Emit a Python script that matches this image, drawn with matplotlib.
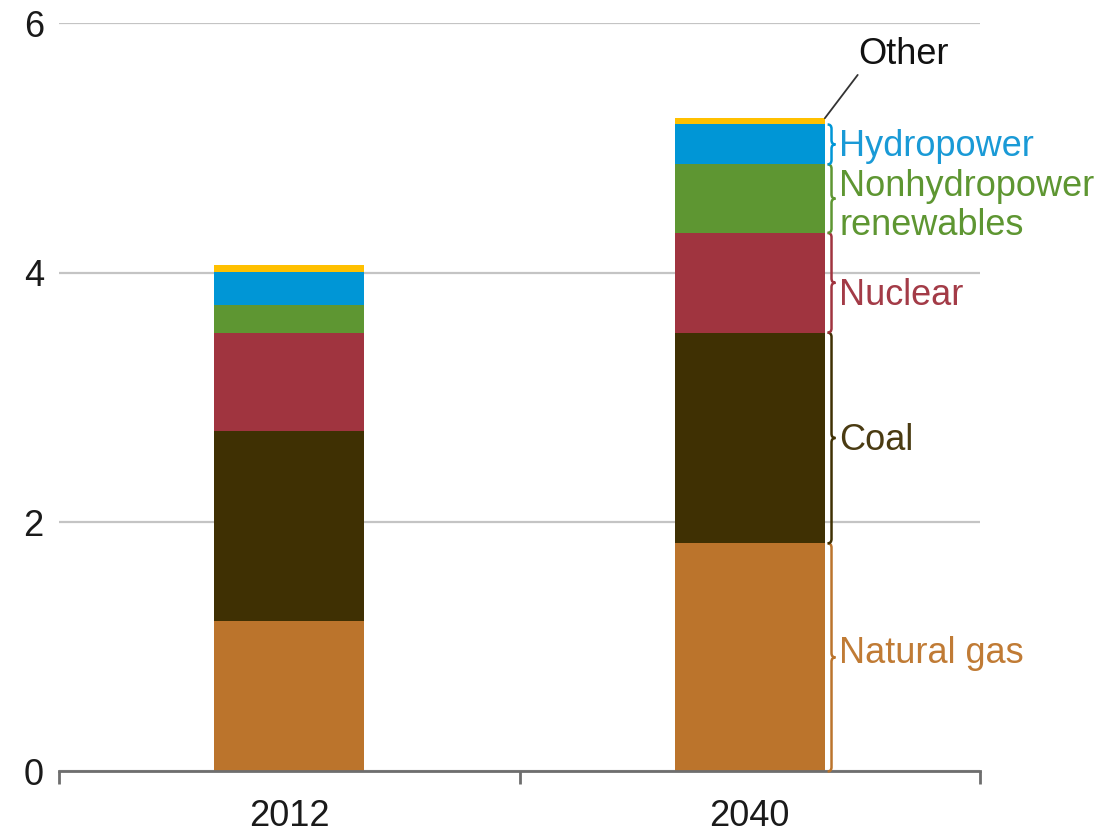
import matplotlib
matplotlib.use("Agg")
import matplotlib.pyplot as plt
from matplotlib.path import Path
from matplotlib.patches import PathPatch
import numpy as np

plt.rcParams['font.family'] = ['Liberation Sans', 'DejaVu Sans']

# Data
years = ["2012", "2040"]
sources = ["Natural gas", "Coal", "Nuclear", "Nonhydropower\nrenewables", "Hydropower", "Other"]
natural_gas = [1.21, 1.83]
coal = [1.52, 1.69]
nuclear = [0.79, 0.80]
nonhydro = [0.22, 0.55]
hydro = [0.27, 0.32]
other = [0.05, 0.05]

bar_colors = ["#BB742C", "#3F3003", "#A0343F", "#5E9632", "#0096D6", "#FFC000"]
text_colors = ["#C07B35", "#4A3B12", "#A33B47", "#5E9632", "#1A9AD6", "#111111"]
# small vertical nudges of the labels, relative to segment middles
label_nudge = [0.03, -0.02, -0.1, -0.06, -0.02, 0.0]

series = [natural_gas, coal, nuclear, nonhydro, hydro, other]

fig = plt.figure(figsize=(11.1, 8.36), dpi=100)
ax = fig.add_axes([0.0532, 0.0772, 0.8297, 0.8947])

x = np.arange(len(years))
width = 0.326
bottom = np.zeros(len(years))
for vals, col in zip(series, bar_colors):
    ax.bar(x, vals, width, bottom=bottom, color=col, zorder=3)
    bottom += np.array(vals)

ax.set_xlim(-0.5, 1.5)
ax.set_ylim(0, 6)
ax.set_yticks([0, 2, 4, 6])
ax.set_yticklabels(["0", "2", "4", "6"])
ax.grid(axis="y", color="#C4C4C4", linewidth=1.6, zorder=0)
ax.set_axisbelow(True)

for s in ["left", "right", "top"]:
    ax.spines[s].set_visible(False)
ax.spines["bottom"].set_color("#6E6E6E")
ax.spines["bottom"].set_linewidth(2)
ax.spines["bottom"].set_zorder(4)

ax.set_xticks(x)
ax.set_xticklabels(years)
ax.set_xticks([-0.5, 0.5, 1.5], minor=True)
ax.tick_params(axis="x", which="major", length=0, labelsize=26, pad=20, colors="#1A1A1A")
ax.tick_params(axis="x", which="minor", length=9, width=2, color="#6E6E6E")
ax.tick_params(axis="y", length=0, labelsize=26, pad=11, colors="#1A1A1A")


def brace(ax, x0, y0, y1, w, r, color):
    ym = (y0 + y1) / 2
    xm = x0 + w / 2
    verts = [(x0, y0), (xm, y0), (xm, y0 + r), (xm, ym - r),
             (xm, ym), (x0 + w, ym), (xm, ym), (xm, ym + r),
             (xm, y1 - r), (xm, y1), (x0, y1)]
    codes = [Path.MOVETO, Path.CURVE3, Path.CURVE3, Path.LINETO,
             Path.CURVE3, Path.CURVE3, Path.CURVE3, Path.CURVE3,
             Path.LINETO, Path.CURVE3, Path.CURVE3]
    ax.add_patch(PathPatch(Path(verts, codes), fill=False, edgecolor=color,
                           linewidth=1.8, zorder=5, clip_on=False))


# Braces and labels next to the 2040 bar
i = 1
bx = x[i] + width / 2 + 0.006
lx = x[i] + width / 2 + 0.031
cum = 0.0
for k, (vals, name) in enumerate(zip(series, sources)):
    y0 = cum
    y1 = cum + vals[i]
    cum = y1
    if name == "Other":
        continue
    brace(ax, bx, y0, y1, 0.017, 0.035, bar_colors[k])
    ax.text(lx, (y0 + y1) / 2 + label_nudge[k], name, color=text_colors[k], fontsize=26,
            va="center", ha="left", linespacing=1.15, clip_on=False)

# "Other" label with leader line
top = cum
ax.annotate("Other", xy=(x[i] + width / 2, top), xytext=(1.235, 5.75),
            fontsize=26, color=text_colors[5], va="center", ha="left",
            arrowprops=dict(arrowstyle="-", color="#333333", lw=1.3,
                            shrinkA=0, shrinkB=0, relpos=(0.02, 0.0)),
            annotation_clip=False)

fig.savefig("out.png", dpi=100)
